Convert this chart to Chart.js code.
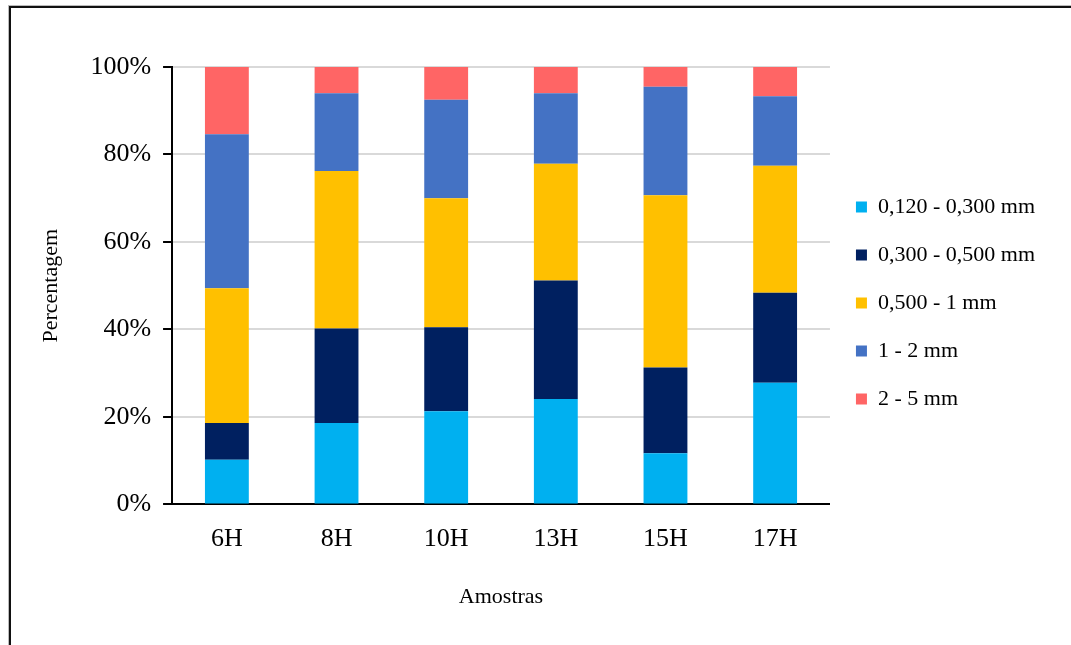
<!DOCTYPE html>
<html>
<head>
<meta charset="utf-8">
<title>Percentagem por amostra</title>
<script src="https://cdn.jsdelivr.net/npm/chart.js@4.4.1/dist/chart.umd.min.js"></script>
<style>
  html, body { margin: 0; padding: 0; background: #fff; }
  body { width: 1071px; height: 645px; position: relative; overflow: hidden; }
  .frame {
    position: absolute; left: 9px; top: 6px; width: 1200px; height: 800px;
    border-left: 2px solid #111; border-top: 2px solid #111;
    box-shadow: -1px -1px 0 #bbb;
  }
  #wrap { position: absolute; left: 0; top: 0; width: 1071px; height: 645px; }
</style>
</head>
<body>
<div class="frame"></div>
<div id="wrap"><canvas id="grafico" width="1071" height="645"></canvas></div>
<script>
// ==========================
// DADOS
// ==========================
const amostras = ["6H", "8H", "10H", "13H", "15H", "17H"];
const classes = ["0,120 - 0,300 mm", "0,300 - 0,500 mm", "0,500 - 1 mm", "1 - 2 mm", "2 - 5 mm"];
const fina = [10.2, 18.6, 21.3, 24.1, 11.7, 27.8];     // 0,120 - 0,300 mm
const media = [8.4, 21.6, 19.2, 27.1, 19.6, 20.6];     // 0,300 - 0,500 mm
const grossa = [30.8, 36.0, 29.5, 26.7, 39.4, 29.0];   // 0,500 - 1 mm
const muitoGrossa = [35.2, 17.8, 22.5, 16.1, 24.8, 15.9]; // 1 - 2 mm
const cascalho = [15.4, 6.0, 7.5, 6.0, 4.5, 6.7];      // 2 - 5 mm
const ticksY = [0, 20, 40, 60, 80, 100];

const cores = ["#00B0F0", "#002060", "#FFC000", "#4472C4", "#FF6565"];
const series = [fina, media, grossa, muitoGrossa, cascalho];

const serif = "'Times New Roman', 'Liberation Serif', serif";

// ==========================
// GRÁFICO EMPILHADO 100%
// ==========================
document.addEventListener("DOMContentLoaded", () => {
  new Chart(document.getElementById("grafico"), {
    type: "bar",
    data: {
      labels: amostras,
      datasets: series.map((valores, i) => ({
        label: classes[i],
        data: valores,
        backgroundColor: cores[i],
        borderWidth: 0,
        categoryPercentage: 0.8,
        barPercentage: 0.5
      }))
    },
    options: {
      responsive: false,
      maintainAspectRatio: false,
      animation: false,
      layout: { padding: { left: 38, right: 26, top: 67, bottom: 35 } },
      plugins: {
        tooltip: { enabled: false },
        legend: {
          position: "right",
          align: "start",
          // título vazio só para descer a legenda
          title: { display: true, text: " ", padding: { top: 40, bottom: 39 }, font: { size: 20, family: serif } },
          labels: {
            boxWidth: 11,
            boxHeight: 11,
            padding: 26,
            color: "#000",
            font: { family: serif, size: 22 }
          }
        }
      },
      scales: {
        x: {
          stacked: true,
          grid: { display: false },
          border: { color: "#000", width: 2 },
          ticks: { color: "#000", padding: 11, font: { family: serif, size: 26 } },
          title: {
            display: true, text: "Amostras", color: "#000",
            padding: { top: 18, bottom: 0 },
            font: { family: serif, size: 22 }
          }
        },
        y: {
          stacked: true,
          min: 0,
          max: 100,
          afterBuildTicks: (axis) => { axis.ticks = ticksY.map(v => ({ value: v })); },
          grid: { color: "#d9d9d9", lineWidth: 2, tickLength: 9, tickColor: "#000", tickWidth: 2 },
          border: { color: "#000", width: 2 },
          ticks: {
            color: "#000",
            padding: 12,
            font: { family: serif, size: 26 },
            callback: (v) => v + "%"
          },
          title: {
            display: true, text: "Percentagem", color: "#000",
            padding: { top: 0, bottom: 14 },
            font: { family: serif, size: 22 }
          }
        }
      }
    }
  });
});
</script>
</body>
</html>
